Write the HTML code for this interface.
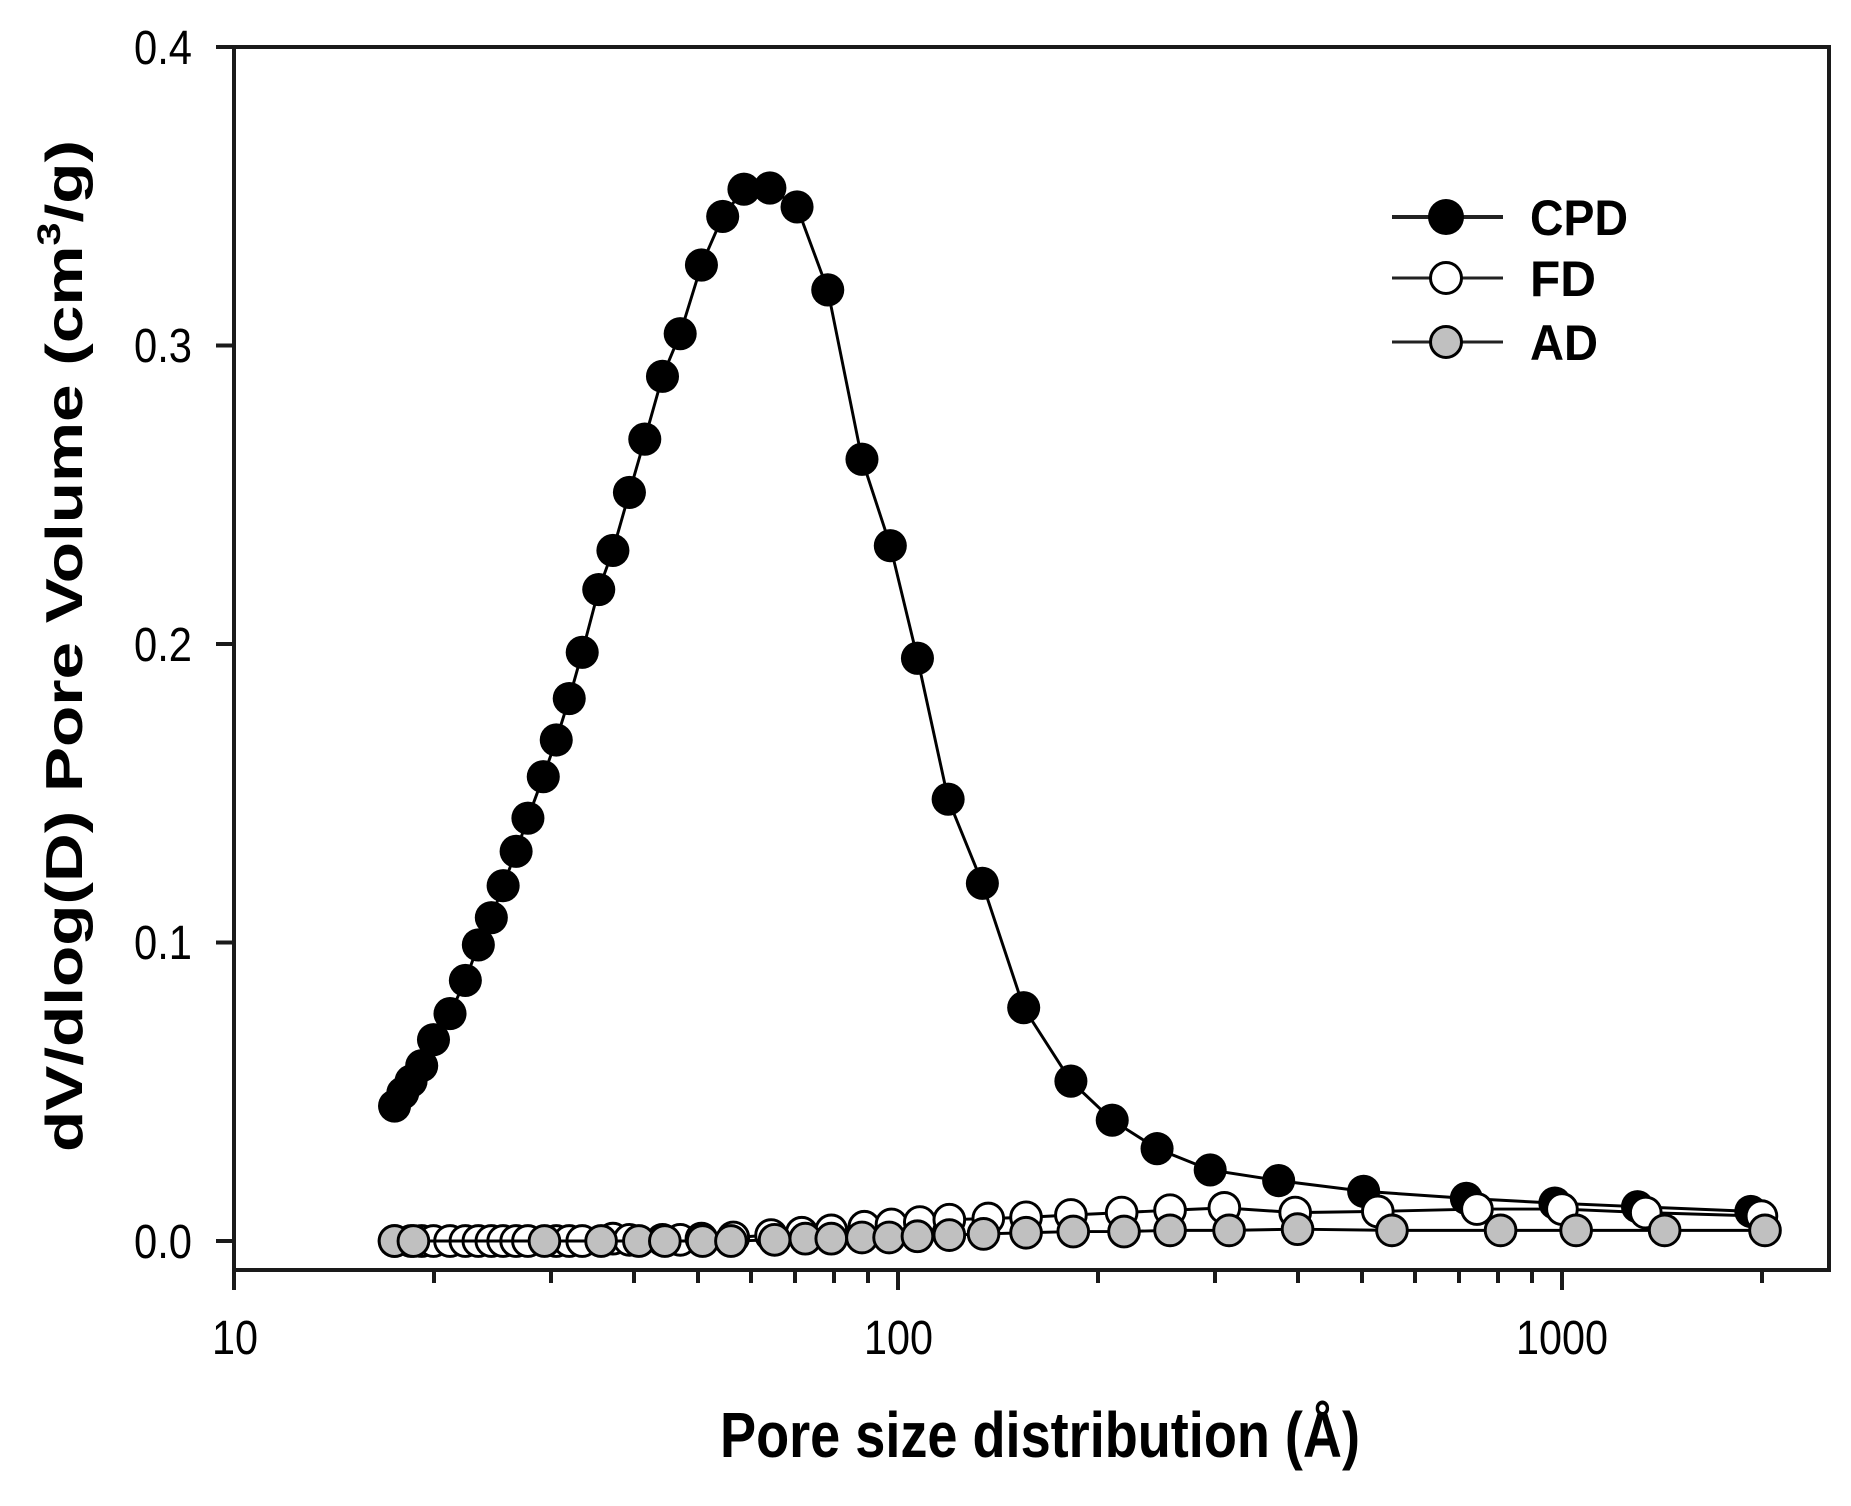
<!DOCTYPE html>
<html><head><meta charset="utf-8"><style>html,body{margin:0;padding:0;background:#fff}svg{display:block}</style></head>
<body>
<svg width="1851" height="1506" viewBox="0 0 1851 1506" xmlns="http://www.w3.org/2000/svg" font-family="Liberation Sans, Arial, sans-serif">
<rect width="1851" height="1506" fill="#fff"/>
<!-- axes box -->
<rect x="234" y="47" width="1595" height="1223" fill="none" stroke="#1a1a1a" stroke-width="4"/>
<g stroke="#1a1a1a" stroke-width="4">
<line x1="216" y1="47" x2="234" y2="47"/><line x1="216" y1="345.5" x2="234" y2="345.5"/><line x1="216" y1="644" x2="234" y2="644"/><line x1="216" y1="942.5" x2="234" y2="942.5"/><line x1="216" y1="1241" x2="234" y2="1241"/>
<line x1="234" y1="1270" x2="234" y2="1290"/><line x1="898" y1="1270" x2="898" y2="1290"/><line x1="1562" y1="1270" x2="1562" y2="1290"/>
<line x1="434" y1="1270" x2="434" y2="1283"/><line x1="551" y1="1270" x2="551" y2="1283"/><line x1="634" y1="1270" x2="634" y2="1283"/><line x1="698" y1="1270" x2="698" y2="1283"/><line x1="751" y1="1270" x2="751" y2="1283"/><line x1="795" y1="1270" x2="795" y2="1283"/><line x1="834" y1="1270" x2="834" y2="1283"/><line x1="868" y1="1270" x2="868" y2="1283"/>
<line x1="1098" y1="1270" x2="1098" y2="1283"/><line x1="1215" y1="1270" x2="1215" y2="1283"/><line x1="1298" y1="1270" x2="1298" y2="1283"/><line x1="1362" y1="1270" x2="1362" y2="1283"/><line x1="1415" y1="1270" x2="1415" y2="1283"/><line x1="1459" y1="1270" x2="1459" y2="1283"/><line x1="1498" y1="1270" x2="1498" y2="1283"/><line x1="1532" y1="1270" x2="1532" y2="1283"/>
<line x1="1762" y1="1270" x2="1762" y2="1283"/>
</g>
<g font-size="48" fill="#000" text-anchor="end">
<text x="192" y="64" textLength="58" lengthAdjust="spacingAndGlyphs">0.4</text>
<text x="192" y="362" textLength="58" lengthAdjust="spacingAndGlyphs">0.3</text>
<text x="192" y="661" textLength="58" lengthAdjust="spacingAndGlyphs">0.2</text>
<text x="192" y="959" textLength="58" lengthAdjust="spacingAndGlyphs">0.1</text>
<text x="192" y="1258" textLength="58" lengthAdjust="spacingAndGlyphs">0.0</text>
</g>
<g font-size="48" fill="#000">
<text x="212" y="1354" textLength="46" lengthAdjust="spacingAndGlyphs">10</text>
<text x="864" y="1354" textLength="69" lengthAdjust="spacingAndGlyphs">100</text>
<text x="1516" y="1354" textLength="92" lengthAdjust="spacingAndGlyphs">1000</text>
</g>
<text x="720" y="1457" font-size="64" font-weight="bold" textLength="640" lengthAdjust="spacingAndGlyphs">Pore size distribution (Å)</text>
<text transform="translate(82,1152) rotate(-90)" font-size="52" font-weight="bold" textLength="1012" lengthAdjust="spacingAndGlyphs">dV/dlog(D) Pore Volume (cm<tspan font-size="32" dy="-22">3</tspan><tspan dy="22">/g)</tspan></text>
<!-- legend -->
<g stroke="#222" stroke-width="4">
<line x1="1392" y1="217" x2="1503" y2="217"/>
<line x1="1392" y1="278" x2="1503" y2="278" stroke-width="3"/>
<line x1="1392" y1="342" x2="1503" y2="342" stroke-width="3"/>
</g>
<circle cx="1446" cy="217" r="18" fill="#000"/>
<circle cx="1446" cy="278" r="15.5" fill="#fff" stroke="#000" stroke-width="3"/>
<circle cx="1446" cy="342" r="15.5" fill="#c0c0c0" stroke="#000" stroke-width="3"/>
<g font-size="50" font-weight="bold" fill="#000">
<text x="1530" y="235" textLength="98" lengthAdjust="spacingAndGlyphs">CPD</text>
<text x="1530" y="296" textLength="66" lengthAdjust="spacingAndGlyphs">FD</text>
<text x="1530" y="360" textLength="68" lengthAdjust="spacingAndGlyphs">AD</text>
</g>
<!-- data in displayed coords -->
<g transform="matrix(1.1804 0 0 1.1845 1.46 -2.7)">
<polyline fill="none" stroke="#000" stroke-width="2.5" points="333,936 340,925 347,915 356,902 366,880 380,858 393,830 404,800 415,777 425,750 436,721 446,693 459,658 470,627 481,592 492,553 506,500 518,467 532,418 545,373 560,320 575,284 593,226 611,185 629,162 651,161 674,177 700,247 729,390 753,463 776,558 802,677 831,748 866,853 906,915 941,948 979,972 1024,990 1082,999 1154,1008 1241,1014 1316,1018 1386,1021 1482,1025"/>
<g fill="#000">
<circle cx="333" cy="936" r="14"/><circle cx="340" cy="925" r="14"/><circle cx="347" cy="915" r="14"/><circle cx="356" cy="902" r="14"/><circle cx="366" cy="880" r="14"/><circle cx="380" cy="858" r="14"/><circle cx="393" cy="830" r="14"/><circle cx="404" cy="800" r="14"/><circle cx="415" cy="777" r="14"/><circle cx="425" cy="750" r="14"/><circle cx="436" cy="721" r="14"/><circle cx="446" cy="693" r="14"/><circle cx="459" cy="658" r="14"/><circle cx="470" cy="627" r="14"/><circle cx="481" cy="592" r="14"/><circle cx="492" cy="553" r="14"/><circle cx="506" cy="500" r="14"/><circle cx="518" cy="467" r="14"/><circle cx="532" cy="418" r="14"/><circle cx="545" cy="373" r="14"/><circle cx="560" cy="320" r="14"/><circle cx="575" cy="284" r="14"/><circle cx="593" cy="226" r="14"/><circle cx="611" cy="185" r="14"/><circle cx="629" cy="162" r="14"/><circle cx="651" cy="161" r="14"/><circle cx="674" cy="177" r="14"/><circle cx="700" cy="247" r="14"/><circle cx="729" cy="390" r="14"/><circle cx="753" cy="463" r="14"/><circle cx="776" cy="558" r="14"/><circle cx="802" cy="677" r="14"/><circle cx="831" cy="748" r="14"/><circle cx="866" cy="853" r="14"/><circle cx="906" cy="915" r="14"/><circle cx="941" cy="948" r="14"/><circle cx="979" cy="972" r="14"/><circle cx="1024" cy="990" r="14"/><circle cx="1082" cy="999" r="14"/><circle cx="1154" cy="1008" r="14"/><circle cx="1241" cy="1014" r="14"/><circle cx="1316" cy="1018" r="14"/><circle cx="1386" cy="1021" r="14"/><circle cx="1482" cy="1025" r="14"/>
</g>
<polyline fill="none" stroke="#000" stroke-width="2.5" points="333,1050 600,1050 620,1047 652,1045 678,1043 703,1041 731,1038 754,1036 778,1034 803,1032 836,1031 868,1030 906,1028 949,1026 990,1024 1036,1022 1096,1026 1166,1025 1250,1023 1322,1023 1393,1026 1491,1029"/>
<g fill="#fff" stroke="#000" stroke-width="2.5">
<circle cx="333" cy="1050" r="13"/><circle cx="347" cy="1050" r="13"/><circle cx="356" cy="1050" r="13"/><circle cx="366" cy="1050" r="13"/><circle cx="380" cy="1050" r="13"/><circle cx="393" cy="1050" r="13"/><circle cx="404" cy="1050" r="13"/><circle cx="415" cy="1050" r="13"/><circle cx="425" cy="1050" r="13"/><circle cx="436" cy="1050" r="13"/><circle cx="446" cy="1050" r="13"/><circle cx="470" cy="1050" r="13"/><circle cx="481" cy="1050" r="13"/><circle cx="492" cy="1050" r="13"/><circle cx="518" cy="1048" r="13"/><circle cx="532" cy="1049" r="13"/><circle cx="560" cy="1049" r="13"/><circle cx="575" cy="1049" r="13"/><circle cx="593" cy="1048" r="13"/><circle cx="620" cy="1047" r="13"/><circle cx="652" cy="1045" r="13"/><circle cx="678" cy="1043" r="13"/><circle cx="703" cy="1041" r="13"/><circle cx="731" cy="1038" r="13"/><circle cx="754" cy="1036" r="13"/><circle cx="778" cy="1034" r="13"/><circle cx="803" cy="1032" r="13"/><circle cx="836" cy="1031" r="13"/><circle cx="868" cy="1030" r="13"/><circle cx="906" cy="1028" r="13"/><circle cx="949" cy="1026" r="13"/><circle cx="990" cy="1024" r="13"/><circle cx="1036" cy="1022" r="13"/><circle cx="1096" cy="1026" r="13"/><circle cx="1166" cy="1025" r="13"/><circle cx="1250" cy="1023" r="13"/><circle cx="1322" cy="1023" r="13"/><circle cx="1393" cy="1026" r="13"/><circle cx="1491" cy="1029" r="13"/>
</g>
<polyline fill="none" stroke="#000" stroke-width="2.5" points="333,1050 620,1050 655,1049 681,1048 703,1048 729,1047 752,1047 776,1046 803,1045 832,1044 868,1043 908,1042 951,1042 990,1041 1040,1041 1098,1040 1178,1041 1270,1041 1334,1041 1409,1041 1494,1041"/>
<g fill="#c0c0c0" stroke="#000" stroke-width="2.5">
<circle cx="333" cy="1050" r="13"/><circle cx="349" cy="1050" r="13"/><circle cx="460" cy="1050" r="13"/><circle cx="508" cy="1050" r="13"/><circle cx="540" cy="1050" r="13"/><circle cx="562" cy="1050" r="13"/><circle cx="594" cy="1050" r="13"/><circle cx="618" cy="1050" r="13"/><circle cx="655" cy="1049" r="13"/><circle cx="681" cy="1048" r="13"/><circle cx="703" cy="1048" r="13"/><circle cx="729" cy="1047" r="13"/><circle cx="752" cy="1047" r="13"/><circle cx="776" cy="1046" r="13"/><circle cx="803" cy="1045" r="13"/><circle cx="832" cy="1044" r="13"/><circle cx="868" cy="1043" r="13"/><circle cx="908" cy="1042" r="13"/><circle cx="951" cy="1042" r="13"/><circle cx="990" cy="1041" r="13"/><circle cx="1040" cy="1041" r="13"/><circle cx="1098" cy="1040" r="13"/><circle cx="1178" cy="1041" r="13"/><circle cx="1270" cy="1041" r="13"/><circle cx="1334" cy="1041" r="13"/><circle cx="1409" cy="1041" r="13"/><circle cx="1494" cy="1041" r="13"/>
</g>
</g>
</svg>
</body></html>
